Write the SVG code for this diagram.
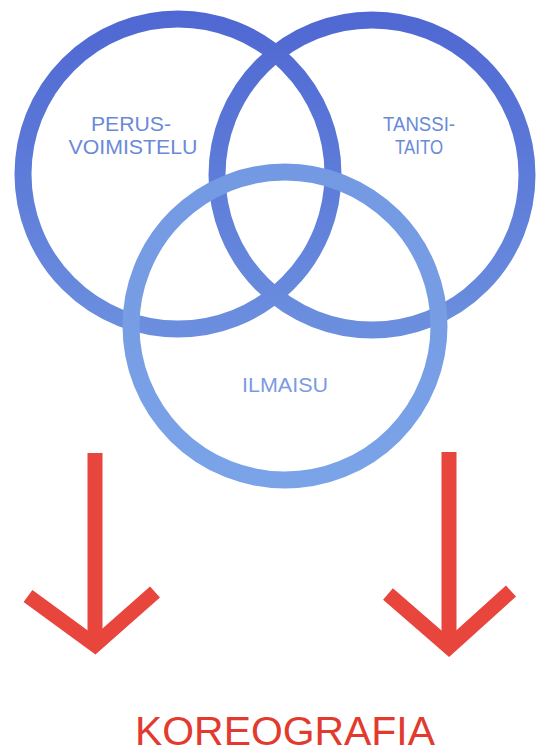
<svg xmlns="http://www.w3.org/2000/svg" width="537" height="753" viewBox="0 0 537 753">
<defs>
<linearGradient id="gTop" gradientUnits="userSpaceOnUse" x1="0" y1="0" x2="0" y2="340">
<stop offset="0" stop-color="#4e66d2"/>
<stop offset="1" stop-color="#6c90df"/>
</linearGradient>
<linearGradient id="gBot" gradientUnits="userSpaceOnUse" x1="0" y1="164" x2="0" y2="490">
<stop offset="0" stop-color="#7399e2"/>
<stop offset="1" stop-color="#7ba3e8"/>
</linearGradient>
<style>
.ring{fill:none;stroke-width:17}
.lbl{font-family:"Liberation Sans",Arial,sans-serif;fill:#6a8ad8;text-anchor:middle}
.arrow{fill:none;stroke:#e8453c;stroke-width:15;stroke-linecap:butt;stroke-linejoin:miter}
.title{font-family:"Liberation Sans",Arial,sans-serif;fill:#e23a2e;text-anchor:middle}
</style>
</defs>
<rect width="537" height="753" fill="#ffffff"/>
<g id="perusvoimistelu">
<circle class="ring" cx="178" cy="174" r="155" stroke="url(#gTop)"/>
<text class="lbl" font-size="20" x="131" y="131" textLength="80" lengthAdjust="spacingAndGlyphs">PERUS-</text>
<text class="lbl" font-size="20" x="133" y="154" textLength="129" lengthAdjust="spacingAndGlyphs">VOIMISTELU</text>
</g>
<g id="tanssitaito">
<circle class="ring" cx="372" cy="175" r="155" stroke="url(#gTop)"/>
<text class="lbl" font-size="20" x="419" y="131" textLength="72" lengthAdjust="spacingAndGlyphs">TANSSI-</text>
<text class="lbl" font-size="20" x="419" y="154" textLength="48" lengthAdjust="spacingAndGlyphs">TAITO</text>
</g>
<g id="ilmaisu">
<circle class="ring" cx="285" cy="326" r="154" stroke="url(#gBot)"/>
<text class="lbl" font-size="21" x="285" y="392" textLength="86" lengthAdjust="spacingAndGlyphs" style="fill:#7b9be0">ILMAISU</text>
</g>
<g id="connectors">
<path class="arrow" d="M95 453 L95 644"/>
<path class="arrow" d="M28 596 L95 645 L155 592"/>
<path class="arrow" d="M449 452 L449 646"/>
<path class="arrow" d="M388 594 L449 647 L511 591"/>
</g>
<g id="koreografia">
<text class="title" font-size="40" x="285" y="745" textLength="300" lengthAdjust="spacingAndGlyphs">KOREOGRAFIA</text>
</g>
</svg>
